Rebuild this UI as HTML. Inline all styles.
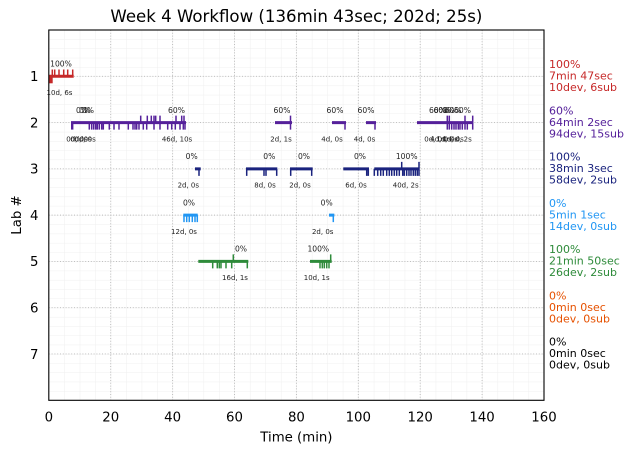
<!DOCTYPE html>
<html><head><meta charset="utf-8"><style>
html,body{margin:0;padding:0;background:#fff;}
svg{display:block;font-family:"DejaVu Sans","Liberation Sans",sans-serif;}
.sm{font-size:7px;fill:#222;text-anchor:middle;}
.pc{font-size:7.6px;fill:#222;text-anchor:middle;}
.tk{font-size:13.3px;fill:#000;}
.lg{font-size:11px;}
</style></head><body>
<svg width="634" height="453" viewBox="0 0 634 453" xmlns="http://www.w3.org/2000/svg">
<defs>
<pattern id="mg" patternUnits="userSpaceOnUse" x="48.8" y="30" width="15.475" height="9.256">
<path d="M0 0V9.256M0 0H15.475" stroke="#efefef" stroke-width="1" fill="none"/>
</pattern>
</defs>
<rect x="48.8" y="30" width="495.2" height="370.3" fill="url(#mg)"/>
<g stroke="#b8b8b8" stroke-width="0.9" stroke-dasharray="1 1.8" fill="none">
<path d="M110.7 30V400.3M172.6 30V400.3M234.5 30V400.3M296.4 30V400.3M358.3 30V400.3M420.2 30V400.3M482.1 30V400.3"/>
<path d="M48.8 76.28H544M48.8 122.56H544M48.8 168.84H544M48.8 215.12H544M48.8 261.4H544M48.8 307.68H544M48.8 353.96H544"/>
</g>

<g stroke="#c62828" fill="#c62828">
<path d="M48.8 76.3H73.7" stroke-width="3"/>
<rect x="48.8" y="76.3" width="3.9" height="7" stroke="none"/>
<path d="M52.3 76.3V69.5M54.7 76.3V69.5M59 76.3V69.5M63.7 76.3V69.5M67.7 76.3V69.5M72.7 76.3V69.5" stroke-width="1.5"/>
</g>
<text class="pc" x="61" y="66.5">100%</text>
<text class="sm" x="59.5" y="95">10d, 6s</text>

<g stroke="#55209a" fill="#55209a">
<path d="M71 122.6H186M275 122.6H292M332 122.6H346M366 122.6H376M417 122.6H473" stroke-width="3"/>
<rect x="71" y="122.6" width="2.4" height="7" stroke="none"/>
<path d="M89.3 122.6V129.6M91.7 122.6V129.6M93.7 122.6V129.6M95.7 122.6V129.6M97.3 122.6V129.6M99.3 122.6V129.6M101.7 122.6V129.6M103.3 122.6V129.6M109.3 122.6V129.6M114 122.6V129.6M119 122.6V129.6M128.3 122.6V129.6M133 122.6V129.6M135 122.6V129.6M136.7 122.6V129.6M139 122.6V129.6M143.3 122.6V129.6M146.7 122.6V129.6M154 122.6V129.6M160 122.6V129.6M167.7 122.6V129.6M171.7 122.6V129.6M175.3 122.6V129.6M180 122.6V129.6M183.3 122.6V129.6M185 122.6V129.6" stroke-width="1.5"/>
<path d="M140.7 122.6V115.6M147.3 122.6V115.6M151.3 122.6V115.6M154 122.6V115.6M155.7 122.6V115.6M160 122.6V115.6M176 122.6V115.6M181.7 122.6V115.6M184 122.6V115.6" stroke-width="1.5"/>
<path d="M290.5 115.6V129.6M345 122.6V129.6M375 122.6V129.6" stroke-width="1.5"/>
<path d="M447.3 122.6V129.6M449.3 122.6V129.6M451.7 122.6V129.6M454 122.6V129.6M456 122.6V129.6M458.3 122.6V129.6M460 122.6V129.6M462.3 122.6V129.6M465 122.6V129.6M467.3 122.6V129.6M472.7 122.6V129.6" stroke-width="1.5"/>
<path d="M447.3 122.6V115.6M449.3 122.6V115.6M465 122.6V115.6M472.7 122.6V115.6" stroke-width="1.5"/>
</g>
<text class="pc" x="82" y="112.8">0%</text>
<text class="pc" x="85" y="112.8">0%</text>
<text class="pc" x="88" y="112.8">0%</text>
<text class="pc" x="176.5" y="112.8">60%</text>
<text class="sm" x="77" y="141.4">0d, 0s</text>
<text class="sm" x="81" y="141.4">0d, 0s</text>
<text class="sm" x="85" y="141.4">0d, 0s</text>
<text class="sm" x="177" y="141.4">46d, 10s</text>
<text class="pc" x="282" y="112.8">60%</text>
<text class="sm" x="281" y="141.4">2d, 1s</text>
<text class="pc" x="335" y="112.8">60%</text>
<text class="sm" x="332" y="141.4">4d, 0s</text>
<text class="pc" x="366" y="112.8">60%</text>
<text class="sm" x="364.5" y="141.4">4d, 0s</text>
<text class="pc" x="437.5" y="112.8">60%</text>
<text class="pc" x="442" y="112.8">60%</text>
<text class="pc" x="449" y="112.8">0%</text>
<text class="pc" x="453" y="112.8">60%</text>
<text class="pc" x="462.5" y="112.8">60%</text>
<text class="sm" x="435" y="141.4">0d, 0s</text>
<text class="sm" x="441" y="141.4">4d, 0s</text>
<text class="sm" x="447" y="141.4">1d, 0s</text>
<text class="sm" x="453" y="141.4">0d, 0s</text>
<text class="sm" x="461" y="141.4">4d, 2s</text>

<g stroke="#1a237e" fill="#1a237e">
<path d="M195 168.9H200.7M246 168.9H277.3M290 168.9H312.7M343.3 168.9H369M374.3 168.9H419.5" stroke-width="3"/>
<path d="M199 168.9V175.9M246.7 168.9V175.9M264 168.9V175.9M266 168.9V175.9M276.7 168.9V175.9M290.7 168.9V175.9M311.7 168.9V175.9M366.7 168.9V175.9M368.3 168.9V175.9" stroke-width="1.5"/>
<path d="M374.3 168.9V175.9M377.7 168.9V175.9M380.7 168.9V175.9M383.3 168.9V175.9M386.7 168.9V175.9M389.3 168.9V175.9M391.7 168.9V175.9M394.3 168.9V175.9M396.7 168.9V175.9M399.3 168.9V175.9M402.7 168.9V175.9M404.3 168.9V175.9M406.7 168.9V175.9M409 168.9V175.9M411 168.9V175.9M413.3 168.9V175.9M415.3 168.9V175.9M417.3 168.9V175.9M419 168.9V175.9" stroke-width="1.5"/>
<path d="M401.7 168.9V161.9M419 168.9V161.9" stroke-width="1.5"/>
</g>
<text class="pc" x="191.7" y="159.1">0%</text>
<text class="sm" x="188.3" y="187.7">2d, 0s</text>
<text class="pc" x="269.3" y="159.1">0%</text>
<text class="sm" x="265" y="187.7">8d, 0s</text>
<text class="pc" x="304" y="159.1">0%</text>
<text class="sm" x="300" y="187.7">2d, 0s</text>
<text class="pc" x="360" y="159.1">0%</text>
<text class="sm" x="356" y="187.7">6d, 0s</text>
<text class="pc" x="406.7" y="159.1">100%</text>
<text class="sm" x="405.7" y="187.7">40d, 2s</text>

<g stroke="#2196f3" fill="#2196f3">
<path d="M183.3 215.1H197.7M329 215.1H334.3" stroke-width="3"/>
<path d="M184 215.1V222.1M186.7 215.1V222.1M189.3 215.1V222.1M192.3 215.1V222.1M195 215.1V222.1M197.3 215.1V222.1M333.3 215.1V222.1" stroke-width="1.5"/>
</g>
<text class="pc" x="189" y="205.3">0%</text>
<text class="sm" x="184" y="233.9">12d, 0s</text>
<text class="pc" x="326.7" y="205.3">0%</text>
<text class="sm" x="322.7" y="233.9">2d, 0s</text>

<g stroke="#2e8b3a" fill="#2e8b3a">
<path d="M198.3 261.4H248.3M310 261.4H331.7" stroke-width="3"/>
<path d="M212.7 261.4V268.4M217.3 261.4V268.4M219.3 261.4V268.4M221 261.4V268.4M226 261.4V268.4M231.7 261.4V268.4M247.3 261.4V268.4M320 261.4V268.4M322.3 261.4V268.4M324.3 261.4V268.4M326.7 261.4V268.4M329 261.4V268.4" stroke-width="1.5"/>
<path d="M233.3 261.4V254.4M330.7 261.4V254.4" stroke-width="1.5"/>
</g>
<text class="pc" x="241" y="251.6">0%</text>
<text class="sm" x="235" y="280.2">16d, 1s</text>
<text class="pc" x="318.3" y="251.6">100%</text>
<text class="sm" x="316.7" y="280.2">10d, 1s</text>

<rect x="48.8" y="30" width="495.2" height="370.3" fill="none" stroke="#000" stroke-width="1.1"/>

<g class="tk" text-anchor="middle">
<text x="48.8" y="421.5">0</text>
<text x="110.7" y="421.5">20</text>
<text x="172.6" y="421.5">40</text>
<text x="234.5" y="421.5">60</text>
<text x="296.4" y="421.5">80</text>
<text x="358.3" y="421.5">100</text>
<text x="420.2" y="421.5">120</text>
<text x="482.1" y="421.5">140</text>
<text x="544" y="421.5">160</text>
</g>
<g class="tk" text-anchor="end">
<text x="38.5" y="81.1">1</text>
<text x="38.5" y="127.4">2</text>
<text x="38.5" y="173.7">3</text>
<text x="38.5" y="219.9">4</text>
<text x="38.5" y="266.2">5</text>
<text x="38.5" y="312.5">6</text>
<text x="38.5" y="358.8">7</text>
</g>
<text class="tk" x="296.4" y="441.5" text-anchor="middle">Time (min)</text>
<text class="tk" x="0" y="0" text-anchor="middle" transform="translate(21 215) rotate(-90)">Lab #</text>
<text x="296.4" y="22" text-anchor="middle" font-size="16.6" fill="#000">Week 4 Workflow (136min 43sec; 202d; 25s)</text>

<g class="lg">
<g fill="#c62828"><text x="549" y="68">100%</text><text x="549" y="79.5">7min 47sec</text><text x="549" y="91">10dev, 6sub</text></g>
<g fill="#55209a"><text x="549" y="114.3">60%</text><text x="549" y="125.8">64min 2sec</text><text x="549" y="137.3">94dev, 15sub</text></g>
<g fill="#1a237e"><text x="549" y="160.6">100%</text><text x="549" y="172.1">38min 3sec</text><text x="549" y="183.6">58dev, 2sub</text></g>
<g fill="#2196f3"><text x="549" y="206.8">0%</text><text x="549" y="218.3">5min 1sec</text><text x="549" y="229.8">14dev, 0sub</text></g>
<g fill="#2e8b3a"><text x="549" y="253.1">100%</text><text x="549" y="264.6">21min 50sec</text><text x="549" y="276.1">26dev, 2sub</text></g>
<g fill="#e65100"><text x="549" y="299.4">0%</text><text x="549" y="310.9">0min 0sec</text><text x="549" y="322.4">0dev, 0sub</text></g>
<g fill="#000"><text x="549" y="345.7">0%</text><text x="549" y="357.2">0min 0sec</text><text x="549" y="368.7">0dev, 0sub</text></g>
</g>
</svg>
</body></html>
